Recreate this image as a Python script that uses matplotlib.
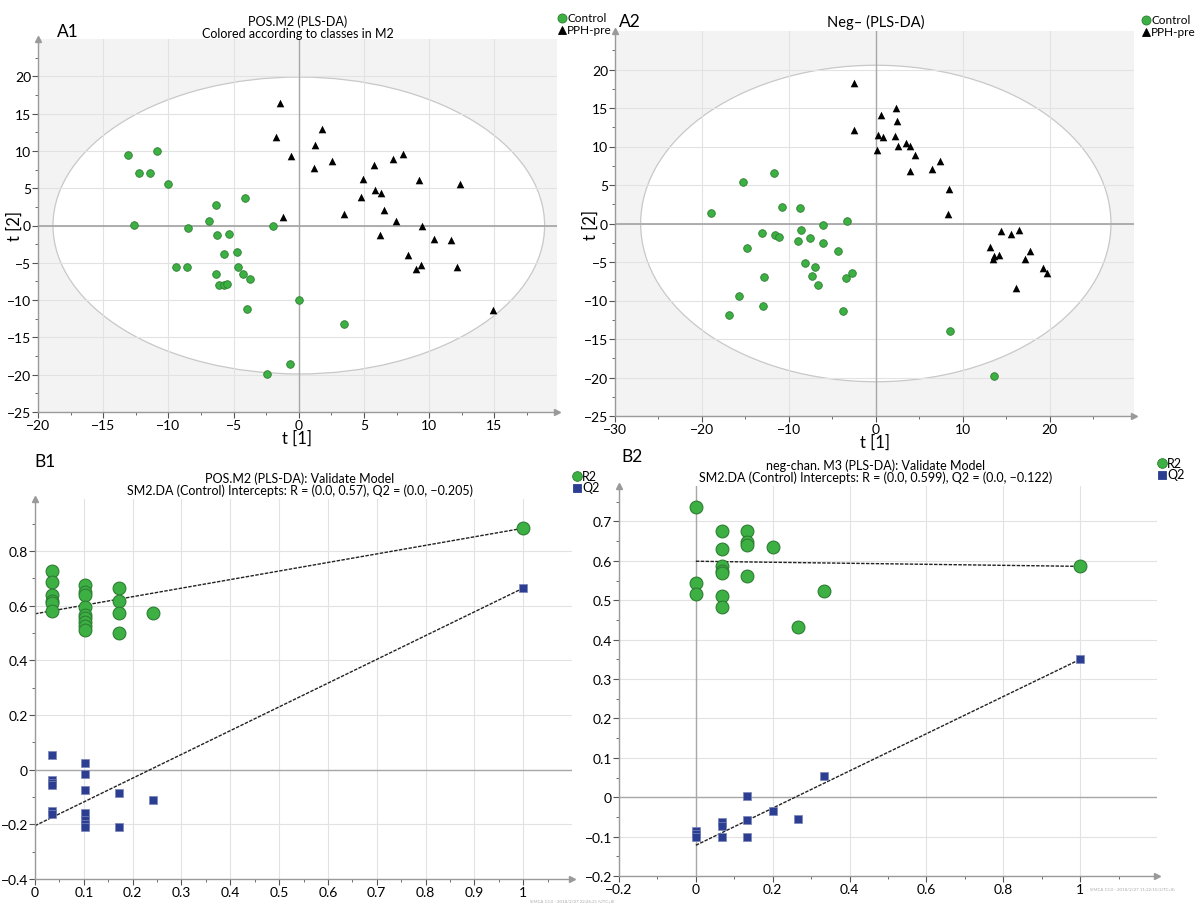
import matplotlib
matplotlib.use("Agg")
import matplotlib.pyplot as plt
from matplotlib import font_manager
from matplotlib.patches import Ellipse
from matplotlib.lines import Line2D
import numpy as np

# humanist sans close to the SIMCA font
names = set(f.name for f in font_manager.fontManager.ttflist)
fam = [n for n in ["Lato", "DejaVu Sans"] if n in names]
plt.rcParams["font.family"] = fam + ["DejaVu Sans"]
plt.rcParams["axes.unicode_minus"] = True

# ---- A1 scores (positive mode) ----
a1_ctrl_x = [-13.1, -10.85, -12.24, -11.4, -10.06, -4.09, -6.32, -12.65, -6.85, -8.53,
             -1.97, -6.29, -5.32, -5.7, -4.74, -9.38, -8.56, -6.32, -4.65, -4.3,
             -3.76, -6.09, -5.74, -5.47, 0.0, -3.97, 3.5, -0.7, -2.41]
a1_ctrl_y = [9.4, 9.96, 7.0, 7.05, 5.5, 3.75, 2.77, 0.13, 0.58, -0.27,
             0.0, -1.34, -1.2, -3.8, -3.57, -5.5, -5.54, -6.5, -5.54, -6.5,
             -7.23, -7.95, -8.04, -7.9, -10.04, -11.25, -13.26, -18.6, -19.87]
a1_pph_x = [-1.47, -1.76, 1.79, 1.24, -0.59, 1.18, 2.56, 7.2, 8.0, 5.79,
            4.94, 9.24, 12.35, 5.82, 6.32, 4.79, 6.5, 3.5, -1.21, 7.44,
            9.44, 6.24, 10.35, 11.65, 8.38, 9.35, 12.15, 9.0, 14.88]
a1_pph_y = [16.4, 11.9, 12.9, 10.8, 9.29, 7.77, 8.6, 8.93, 9.6, 8.08,
            6.25, 6.1, 5.58, 4.78, 4.29, 3.88, 2.14, 1.56, 1.12, 0.67,
            0.0, -1.3, -1.83, -1.96, -3.97, -5.27, -5.5, -5.89, -11.38]
a1_ellipse = (18.85, 19.9)

# ---- A2 scores (negative mode) ----
a2_ctrl_x = [-11.68, -15.31, -18.98, -10.84, -8.76, -3.32, -6.06, -13.05, -11.64, -11.15,
             -8.58, -8.98, -7.57, -6.02, -14.87, -4.38, -8.14, -6.99, -12.88, -7.39,
             -3.45, -2.79, -6.64, -15.71, -13.01, -16.86, -3.72, 8.5, 13.58]
a2_ctrl_y = [6.55, 5.34, 1.3, 2.13, 2.04, 0.35, -0.17, -1.22, -1.43, -1.78,
             -0.87, -2.3, -1.87, -2.52, -3.17, -3.6, -5.08, -5.6, -6.99, -6.86,
             -7.03, -6.38, -8.03, -9.46, -10.76, -11.94, -11.37, -14.02, -19.79]
a2_pph_x = [-2.52, -2.52, 2.3, 0.62, 2.39, 0.31, 0.84, 2.17, 3.45, 3.94,
            2.61, 0.18, 4.47, 7.39, 6.46, 3.94, 8.45, 8.36, 14.38, 16.5,
            15.58, 13.1, 13.63, 14.2, 13.5, 17.74, 17.17, 19.25, 19.65, 16.15]
a2_pph_y = [18.19, 12.11, 15.06, 14.06, 13.32, 11.46, 11.24, 11.37, 10.46, 10.03,
            10.03, 9.51, 8.9, 8.12, 7.03, 6.81, 4.47, 1.17, -0.91, -0.78,
            -1.35, -3.04, -4.17, -4.08, -4.64, -3.56, -4.56, -5.73, -6.42, -8.33]
a2_ellipse = (27.05, 20.55)

# ---- B1 permutation test (positive mode) ----
b1_r2_x = [0.034] * 6 + [0.103] * 9 + [0.172] * 4 + [0.241, 1.0]
b1_r2_y = [0.727, 0.688, 0.639, 0.617, 0.608, 0.580,
           0.675, 0.650, 0.639, 0.596, 0.566, 0.553, 0.541, 0.525, 0.511,
           0.663, 0.617, 0.574, 0.500, 0.574, 0.883]
b1_q2_x = [0.034] * 6 + [0.103] * 7 + [0.172] * 2 + [0.241, 1.0]
b1_q2_y = [0.053, -0.039, -0.048, -0.057, -0.153, -0.164,
           0.024, -0.015, -0.076, -0.158, -0.186, -0.198, -0.208,
           -0.084, -0.209, -0.112, 0.664]
b1_r2_line = [0.57, 0.883]
b1_q2_line = [-0.205, 0.664]

# ---- B2 permutation test (negative mode) ----
b2_r2_x = [0.0] * 3 + [0.067] * 7 + [0.133] * 4 + [0.2, 0.267, 0.333, 1.0]
b2_r2_y = [0.737, 0.543, 0.516,
           0.675, 0.630, 0.588, 0.575, 0.568, 0.512, 0.484,
           0.676, 0.647, 0.639, 0.562,
           0.635, 0.433, 0.524, 0.586]
b2_q2_x = [0.0] * 3 + [0.067] * 3 + [0.133] * 3 + [0.2, 0.267, 0.333, 1.0]
b2_q2_y = [-0.087, -0.094, -0.100, -0.064, -0.072, -0.100,
           0.003, -0.058, -0.100, -0.035, -0.056, 0.055, 0.350]
b2_r2_line = [0.599, 0.586]
b2_q2_line = [-0.122, 0.350]

GREEN = "#3cb043"
GREEN_E = "#2d7d32"
NAVY = "#2c3e91"
AXC = "#9a9a9a"

W, H = 1196, 904
fig = plt.figure(figsize=(W / 100, H / 100), dpi=100)


def fx(px):
    return px / W


def fy(py):
    return 1 - py / H


def style_axes(ax, bg):
    ax.set_facecolor(bg)
    for s in ["top", "right"]:
        ax.spines[s].set_visible(False)
    for s in ["left", "bottom"]:
        ax.spines[s].set_color(AXC)
        ax.spines[s].set_linewidth(1.0)
    ax.tick_params(which="both", colors="#555555", labelcolor="black", labelsize=10, pad=1)
    ax.tick_params(which="major", length=4, width=0.8)
    ax.tick_params(which="minor", length=2.5, width=0.6)
    ax.set_axisbelow(True)
    ax.grid(True, color="#e2e2e2", lw=0.8)
    ax.plot([0], [1], marker="^", color=AXC, ms=4, transform=ax.transAxes, clip_on=False)
    ax.plot([1], [0], marker=">", color=AXC, ms=4, transform=ax.transAxes, clip_on=False)


def score_plot(rect, cx, cy, px, py, ell, xlim, xticks, xgrid):
    ax = fig.add_axes(rect)
    style_axes(ax, "#f3f3f3")
    ax.add_patch(Ellipse((0, 0), 2 * ell[0], 2 * ell[1], facecolor="white",
                         edgecolor="#c8c8c8", lw=0.9, zorder=0.3))
    ax.axhline(0, color="#a8a8a8", lw=1.3, zorder=1)
    ax.axvline(0, color="#a8a8a8", lw=1.0, zorder=1)
    ax.scatter(cx, cy, s=30, c=GREEN, edgecolors=GREEN_E, linewidths=0.6, zorder=3)
    ax.scatter(px, py, s=30, c="black", marker="^", linewidths=0, zorder=3)
    ax.set_xlim(*xlim)
    ax.set_ylim(-25, 25)
    ax.set_xticks(xticks)
    ax.set_xticks(xgrid, minor=True)
    ax.set_yticks(np.arange(-25, 21, 5))
    ax.set_yticks(np.arange(-22.5, 25, 5), minor=True)
    ax.grid(True, which="major", color="#e2e2e2", lw=0.8)
    ax.set_xlabel("t [1]", fontsize=12, labelpad=-1)
    ax.set_ylabel("t [2]", fontsize=12)
    return ax


a1 = score_plot([fx(38), fy(413), fx(519), 373 / H], a1_ctrl_x, a1_ctrl_y, a1_pph_x, a1_pph_y,
                a1_ellipse, (-20, 19.8), np.arange(-20, 16, 5), np.arange(-17.5, 19, 5))
a1.yaxis.set_label_coords(-0.029, 0.5)
a2 = score_plot([fx(615), fy(417), fx(519), 385 / H], a2_ctrl_x, a2_ctrl_y, a2_pph_x, a2_pph_y,
                a2_ellipse, (-30, 29.7), np.arange(-30, 21, 10), np.arange(-25, 29, 10))
a2.yaxis.set_label_coords(-0.031, 0.5)


def perm_plot(rect, r2x, r2y, q2x, q2y, r2l, q2l, xlim, ylim, xt, xm, yt, ym):
    ax = fig.add_axes(rect)
    style_axes(ax, "white")
    ax.axhline(0, color="#a8a8a8", lw=1.0, zorder=1)
    if xlim[0] < 0:
        ax.axvline(0, color="#a8a8a8", lw=1.0, zorder=1)
    ax.plot([0, 1], r2l, color="#222222", lw=1.0, ls=(0, (2.5, 1)), zorder=2)
    ax.plot([0, 1], q2l, color="#222222", lw=1.0, ls=(0, (2.5, 1)), zorder=2)
    ax.scatter(r2x, r2y, s=85, c=GREEN, edgecolors=GREEN_E, linewidths=0.8, zorder=3)
    ax.scatter(q2x, q2y, s=30, c=NAVY, marker="s", edgecolors="#7a86b8", linewidths=0.5, zorder=3)
    ax.set_xlim(*xlim)
    ax.set_ylim(*ylim)
    ax.set_xticks(xt)
    ax.set_xticks(xm, minor=True)
    ax.set_yticks(yt)
    ax.set_yticks(ym, minor=True)
    ax.set_xticklabels([("%g" % v).replace("-", "\u2212") for v in xt])
    ax.set_yticklabels([("%g" % v).replace("-", "\u2212") for v in yt])
    return ax


b1 = perm_plot([fx(35), fy(880), fx(537), 380 / H], b1_r2_x, b1_r2_y, b1_q2_x, b1_q2_y,
               b1_r2_line, b1_q2_line, (0, 1.1), (-0.4, 0.99),
               np.round(np.arange(0, 1.01, 0.1), 1), np.arange(0.05, 1.1, 0.1),
               np.round(np.arange(-0.4, 0.81, 0.2), 1), np.arange(-0.3, 0.95, 0.2))
b2 = perm_plot([fx(619), fy(877), fx(538), 390 / H], b2_r2_x, b2_r2_y, b2_q2_x, b2_q2_y,
               b2_r2_line, b2_q2_line, (-0.2, 1.2), (-0.2, 0.79),
               np.round(np.arange(-0.2, 1.01, 0.2), 1), np.arange(-0.1, 1.2, 0.2),
               np.round(np.arange(-0.2, 0.71, 0.1), 1), np.arange(-0.15, 0.78, 0.1))


def legend(x, y, items, size, dy=11.5):
    for i, (mk, fc, ec, ms, label) in enumerate(items):
        yy = y + i * dy
        fig.add_artist(Line2D([fx(x)], [fy(yy)], marker=mk, ms=ms, mfc=fc, mec=ec, mew=0.6,
                              ls="none", transform=fig.transFigure))
        fig.text(fx(x + 5), fy(yy), label, fontsize=size, va="center", ha="left")


ab_items = [("o", GREEN, GREEN_E, 6.5, "Control"), ("^", "black", "black", 5.5, "PPH-pre")]
rq_items = [("o", GREEN, GREEN_E, 7, "R2"), ("s", NAVY, NAVY, 5.5, "Q2")]
legend(562, 19, ab_items, 8.5)
legend(1146, 21, ab_items, 8.5)
legend(577, 477, rq_items, 9)
legend(1162, 464, rq_items, 9)

# panel letters
for x, y, t in [(57, 32, "A1"), (619, 22, "A2"), (34, 462, "B1"), (621, 457, "B2")]:
    fig.text(fx(x), fy(y), t, fontsize=12.5, ha="left", va="center")

# titles
fig.text(fx(298), fy(27.5), "POS.M2 (PLS-DA)\nColored according to classes in M2",
         fontsize=9, ha="center", va="center", linespacing=0.95)
fig.text(fx(876), fy(22), "Neg\u2013 (PLS-DA)", fontsize=10.5, ha="center", va="center")
fig.text(fx(300), fy(484.5),
         "POS.M2 (PLS-DA): Validate Model\n"
         "SM2.DA (Control) Intercepts: R = (0.0, 0.57), Q2 = (0.0, \u22120.205)",
         fontsize=9, ha="center", va="center", linespacing=0.95)
fig.text(fx(876), fy(471.5),
         "neg-chan. M3 (PLS-DA): Validate Model\n"
         "SM2.DA (Control) Intercepts: R = (0.0, 0.599), Q2 = (0.0, \u22120.122)",
         fontsize=9, ha="center", va="center", linespacing=0.95)

# software stamps
fig.text(fx(530), fy(901), "SIMCA 13.0 - 2018/2/27 22:26:21 (UTC+8)", fontsize=3.2, color="#aaaaaa",
         ha="left", va="center")
fig.text(fx(1090), fy(889), "SIMCA 13.0 - 2018/2/27 11:22:10 (UTC+8)", fontsize=3.2, color="#aaaaaa",
         ha="left", va="center")

fig.savefig("out.png", dpi=100)
